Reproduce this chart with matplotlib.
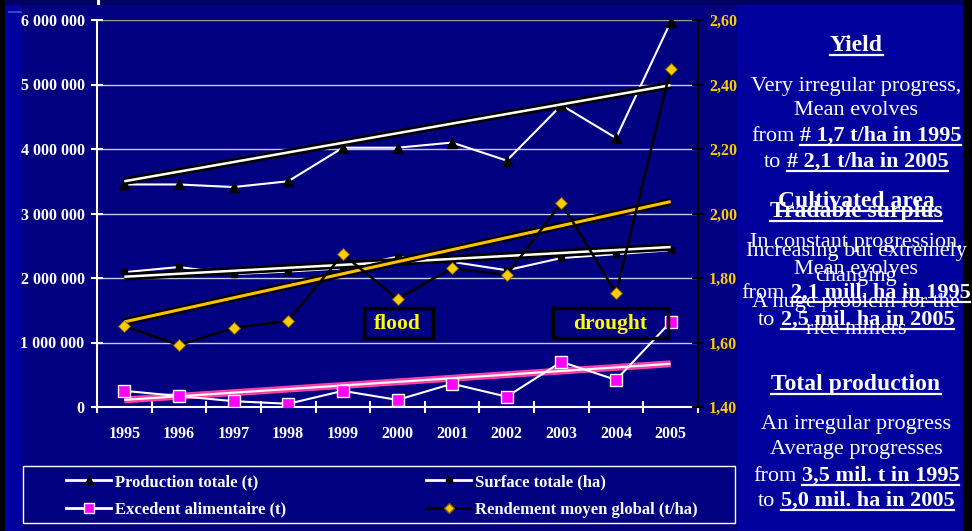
import matplotlib
matplotlib.use('Agg')
import matplotlib.pyplot as plt
import numpy as np
from matplotlib.patches import Rectangle
from matplotlib.lines import Line2D

plt.rcParams['font.family'] = ['Liberation Serif', 'DejaVu Serif']

years = ['1995', '1996', '1997', '1998', '1999', '2000', '2001', '2002', '2003', '2004', '2005']
production = [3.45e6, 3.45e6, 3.41e6, 3.50e6, 4.02e6, 4.02e6, 4.10e6, 3.82e6, 4.68e6, 4.17e6, 5.97e6]
surface = [2.09e6, 2.17e6, 2.06e6, 2.10e6, 2.15e6, 2.33e6, 2.25e6, 2.12e6, 2.31e6, 2.37e6, 2.43e6]
surplus = [0.25e6, 0.17e6, 0.09e6, 0.05e6, 0.25e6, 0.11e6, 0.36e6, 0.16e6, 0.70e6, 0.42e6, 1.32e6]
rendement = [1.651, 1.592, 1.645, 1.667, 1.874, 1.735, 1.831, 1.809, 2.033, 1.753, 2.448]

# trend lines (value at 1995, value at 2005)
prod_trend = [3.50e6, 4.99e6]
surf_trend = [2.02e6, 2.48e6]
surplus_trend = [0.11e6, 0.67e6]
rend_trend = [1.664, 2.037]

left_ticks = [0, 1e6, 2e6, 3e6, 4e6, 5e6, 6e6]
right_ticks = [1.4, 1.6, 1.8, 2.0, 2.2, 2.4, 2.6]

NAVY = '#000080'
W, H = 972, 531


def fx(px):
    return px / W


def fy(py):
    return 1 - py / H


fig = plt.figure(figsize=(W / 100, H / 100), dpi=100, facecolor=NAVY)

# background pieces of the slide
def bg(x0, y0, x1, y1, c):
    fig.patches.append(Rectangle((fx(x0), fy(y1)), fx(x1) - fx(x0), (y1 - y0) / H,
                                 transform=fig.transFigure, color=c, zorder=-10, lw=0))

bg(0, 0, W, 5, '#000060')
bg(0, 0, 5, H, '#000000')
bg(5, 5, 22, H, '#0000a0')
bg(8, 11, 22, 13, '#2848c8')
bg(737, 5, 963, H, '#00009c')
bg(963, 0, W, H, '#000000')
bg(97, 0, 100, 5, '#ffffff')

ax = fig.add_axes([fx(97), fy(407), fx(698) - fx(97), (407 - 20) / H])
ax.patch.set_visible(False)
ax2 = ax.twinx()
ax2.patch.set_visible(False)

x = np.arange(len(years)) + 0.5
xt = [x[0], x[-1]]

# left axis series
ax.plot(xt, prod_trend, color='black', lw=5.5, solid_capstyle='butt', zorder=3)
ax.plot(xt, prod_trend, color='white', lw=1.8, solid_capstyle='butt', zorder=3)
ax.plot(x, production, color='white', lw=1.5, marker='^', ms=7, mfc='black', mec='black', zorder=2)

ax.plot(xt, surf_trend, color='black', lw=5.5, solid_capstyle='butt', zorder=3)
ax.plot(xt, surf_trend, color='white', lw=1.8, solid_capstyle='butt', zorder=3)
ax.plot(x, surface, color='white', lw=1.5, marker='s', ms=5, mfc='black', mec='black', zorder=2)

ax.plot(xt, surplus_trend, color='#ff3fa8', lw=5, solid_capstyle='butt', zorder=3)
ax.plot(xt, surplus_trend, color='white', lw=1.5, solid_capstyle='butt', zorder=3)
ax.plot(x, surplus, color='white', lw=1.5, marker='s', ms=8, mfc='#ff00ff', mec='white', mew=1, zorder=4)

# right axis series
ax2.plot(xt, rend_trend, color='black', lw=5.5, solid_capstyle='butt', zorder=3)
ax2.plot(xt, rend_trend, color='#ffc000', lw=2.2, solid_capstyle='butt', zorder=3)
ax2.plot(x, rendement, color='black', lw=1.8, marker='D', ms=6, mfc='#ffcc00', mec='#806000', mew=0.6, zorder=4)

ax.set_xlim(0, len(years))
ax.set_ylim(0, 6e6)
ax2.set_ylim(1.4, 2.6)

ax.set_yticks(left_ticks)
ax.set_yticklabels([f"{int(v):,}".replace(',', ' ') for v in left_ticks])
ax2.set_yticks(right_ticks)
ax2.set_yticklabels([f"{v:.2f}".replace('.', ',') for v in right_ticks])

ax.set_xticks(x)
ax.set_xticklabels(years)
ax.set_xticks(np.arange(len(years) + 1), minor=True)

lab = dict(family='Liberation Serif', weight='bold', size=11.5)
for t in ax.get_xticklabels() + ax.get_yticklabels() + ax2.get_yticklabels():
    t.set_fontproperties(matplotlib.font_manager.FontProperties(**lab))

ax.tick_params(axis='x', which='major', length=0, pad=14, labelcolor='white')
ax.tick_params(axis='x', which='minor', length=9, width=1.5, direction='inout', color='white')
ax.tick_params(axis='y', length=8, width=1.5, direction='inout', colors='white', pad=5)
ax2.tick_params(axis='y', length=8, width=1.5, direction='inout', color='black',
                labelcolor='#ffcc00', pad=4)

ax.set_axisbelow(True)
ax.grid(axis='y', color='#c8c8e8', lw=1)
ax.get_ygridlines()[-1].set_color('#a09a90')

for s in ['top', 'right']:
    ax.spines[s].set_visible(False)
for s in ['left', 'bottom']:
    ax.spines[s].set_color('white')
    ax.spines[s].set_linewidth(1.5)
for s in ['left', 'top', 'bottom']:
    ax2.spines[s].set_visible(False)
ax2.spines['right'].set_color('black')
ax2.spines['right'].set_linewidth(1.5)

# event boxes
ax.add_patch(Rectangle((4.89, 1.07e6), 1.26, 0.465e6, fill=False, ec='black', lw=2.5, zorder=5))
ax.text(5.5, 1.28e6, 'flood', color='#ffff00', fontsize=15.5, fontweight='bold', ha='center', va='center', zorder=5)
ax.add_patch(Rectangle((8.35, 1.07e6), 2.10, 0.465e6, fill=False, ec='black', lw=2.5, zorder=5))
ax.text(9.4, 1.28e6, 'drought', color='#ffff00', fontsize=15.5, fontweight='bold', ha='center', va='center', zorder=5)

# legend
handles = [
    Line2D([], [], color='white', lw=2, marker='^', ms=6, mfc='black', mec='black'),
    Line2D([], [], color='white', lw=2, marker='s', ms=7, mfc='#ff00ff', mec='white'),
    Line2D([], [], color='white', lw=2, marker='s', ms=5, mfc='black', mec='black'),
    Line2D([], [], color='black', lw=2, marker='D', ms=5, mfc='#ffcc00', mec='#806000'),
]
labels = ['Production totale (t)', 'Excedent alimentaire (t)',
          'Surface totale (ha)', 'Rendement moyen global (t/ha)']
fig.legend(handles, labels, ncol=2, mode='expand', loc='center',
           bbox_to_anchor=(fx(66), fy(526), fx(698) - fx(66), (526 - 466) / H),
           frameon=False, prop=dict(family='Liberation Serif', weight='bold', size=12),
           labelcolor='white', handlelength=2.7, handletextpad=0.25,
           borderaxespad=0, borderpad=0, labelspacing=0.7)
fig.patches.append(Rectangle((fx(23), fy(523)), fx(735) - fx(23), (523 - 466) / H,
                             transform=fig.transFigure, fill=False, ec='white', lw=1))

# right-hand comment panel
renderer = fig.canvas.get_renderer()
CX = 856


def rich_line(y, parts, size=16):
    items = []
    for s, bold, ul in parts:
        t = fig.text(0, fy(y), s, fontsize=size, fontweight='bold' if bold else 'normal',
                     color='white', va='baseline', ha='left')
        items.append((t, ul, t.get_window_extent(renderer).width))
    gap = 0.25 * size * 100 / 72
    total = sum(w for _, _, w in items) + gap * (len(items) - 1)
    xp = CX - total / 2
    for t, ul, w in items:
        t.set_x(fx(xp))
        if ul:
            fig.add_artist(Line2D([fx(xp), fx(xp + w)], [fy(y + 3.5)] * 2, color='white',
                                  lw=1.6, transform=fig.transFigure))
        xp += w + gap


rich_line(51, [('Yield', True, True)], 17)
rich_line(91.5, [('Very irregular progress,', False, False)])
rich_line(115, [('Mean evolves', False, False)])
rich_line(141, [('from', False, False), ('# 1,7 t/ha in 1995', True, True)])
rich_line(167, [('to', False, False), ('# 2,1 t/ha in 2005', True, True)])

# two text boxes lying on top of each other, as on the original slide
rich_line(207, [('Cultivated area', True, True)], 17)
rich_line(247, [('In constant progression,', False, False)])
rich_line(274, [('Mean evolves', False, False)])
rich_line(298, [('from', False, False), ('2,1 mill. ha in 1995', True, True)])
rich_line(325, [('to', False, False), ('2,5 mil. ha in 2005', True, True)])

rich_line(217, [('Tradable surplus', True, True)], 17)
rich_line(256, [('Increasing but extremely', False, False)])
rich_line(281, [('changing', False, False)])
rich_line(307, [('A huge problem for the', False, False)])
rich_line(334, [('rice millers', False, False)])

rich_line(390, [('Total production', True, True)], 17)
rich_line(429, [('An irregular progress', False, False)])
rich_line(454, [('Average progresses', False, False)])
rich_line(481, [('from', False, False), ('3,5 mil. t in 1995', True, True)])
rich_line(506, [('to', False, False), ('5,0 mil. ha in 2005', True, True)])

fig.savefig('out.png', dpi=100, facecolor=fig.get_facecolor())
